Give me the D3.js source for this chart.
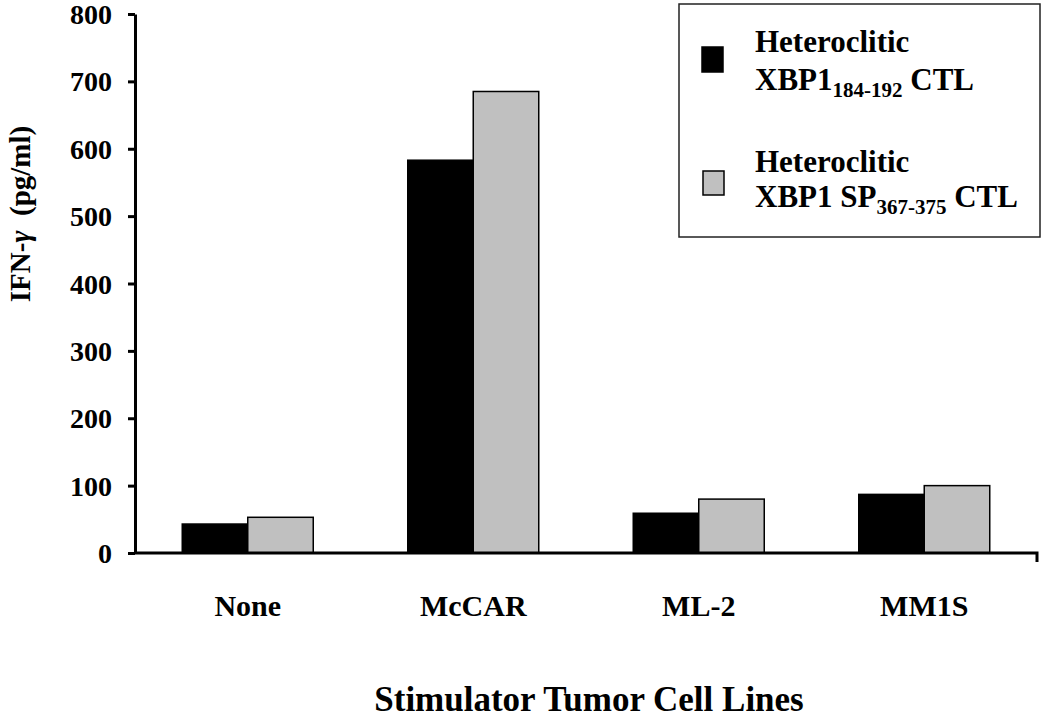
<!DOCTYPE html>
<html>
<head>
<meta charset="utf-8">
<script src="https://cdn.jsdelivr.net/npm/d3@7"></script>
<style>
  html, body { margin: 0; padding: 0; background: #fff; }
  svg { display: block; }
  text { font-family: "Liberation Serif", "Times New Roman", serif; font-weight: bold; fill: #000; }
</style>
</head>
<body>
<svg id="chart" width="1050" height="720"></svg>
<script>
const categories = ["None", "McCAR", "ML-2", "MM1S"];
const seriesNames = ["XBP1_184-192", "XBP1 SP_367-375"];
const series1 = [43, 583, 59, 87];
const series2 = [53, 685, 80, 100];
const yTicks = [0, 100, 200, 300, 400, 500, 600, 700, 800];
const colors = ["#000000", "#c0c0c0"];

const svg = d3.select("#chart");
const x0 = 135, x1 = 1037, yTop = 14, yBot = 553;

const x = d3.scaleBand().domain(categories).range([x0, x1]).paddingInner(0).paddingOuter(0);
const groupW = 131;
const xs = d3.scaleBand().domain(seriesNames).range([0, groupW]).padding(0);
const y = d3.scaleLinear().domain([0, 800]).range([yBot, yTop]);

const data = categories.map((c, i) => ({ cat: c, vals: [series1[i], series2[i]] }));

// Bars
const g = svg.append("g");
data.forEach(d => {
  const left = x(d.cat) + (x.bandwidth() - groupW) / 2;
  d.vals.forEach((v, j) => {
    g.append("rect")
      .attr("x", left + xs(seriesNames[j]))
      .attr("y", y(v))
      .attr("width", xs.bandwidth())
      .attr("height", y(0) - y(v))
      .attr("fill", colors[j])
      .attr("stroke", "#000")
      .attr("stroke-width", 1.5);
  });
});

// Y axis
const yAxis = d3.axisLeft(y).tickValues(yTicks).tickSize(7).tickSizeOuter(0).tickPadding(16);
const ya = svg.append("g").attr("transform", `translate(${x0},0)`).call(yAxis);
ya.select(".domain").attr("stroke", "#000").attr("stroke-width", 3);
ya.selectAll(".tick line").attr("stroke", "#000").attr("stroke-width", 3);
ya.selectAll(".tick text").attr("font-size", 28).attr("font-family", "Liberation Serif").attr("font-weight", "bold").attr("fill", "#000").attr("dy", "0.34em");

// X axis
const xAxis = d3.axisBottom(x).tickSize(0).tickPadding(42);
const xa = svg.append("g").attr("transform", `translate(0,${yBot})`).call(xAxis);
xa.select(".domain").attr("stroke", "#000").attr("stroke-width", 3).attr("d", `M${x0},0H${x1}V9`);
xa.selectAll(".tick text").attr("font-size", 30).attr("font-family", "Liberation Serif").attr("font-weight", "bold").attr("fill", "#000");

// Axis titles
svg.append("text")
  .attr("x", (x0 + x1) / 2 + 3).attr("y", 711)
  .attr("text-anchor", "middle").attr("font-size", 35)
  .text("Stimulator Tumor Cell Lines");

const yt = svg.append("text")
  .attr("transform", "translate(30,214) rotate(-90)")
  .attr("text-anchor", "middle").attr("font-size", 29)
  .style("white-space", "pre");
yt.append("tspan").text("IFN-");
yt.append("tspan").attr("font-style", "italic").text("γ");
yt.append("tspan").text("  (pg/ml)");

// Legend
const lg = svg.append("g");
lg.append("rect").attr("x", 679).attr("y", 4).attr("width", 361).attr("height", 233)
  .attr("fill", "#fff").attr("stroke", "#222").attr("stroke-width", 1.5);
lg.append("rect").attr("x", 702).attr("y", 47).attr("width", 21).attr("height", 25)
  .attr("fill", colors[0]).attr("stroke", "#000").attr("stroke-width", 1.5);
lg.append("rect").attr("x", 703).attr("y", 171).attr("width", 21).attr("height", 24)
  .attr("fill", colors[1]).attr("stroke", "#000").attr("stroke-width", 1.5);

const lt1 = lg.append("text").attr("x", 755).attr("y", 52).attr("font-size", 31);
lt1.text("Heteroclitic");
const lt2 = lg.append("text").attr("x", 755).attr("y", 90).attr("font-size", 31);
lt2.append("tspan").text("XBP1");
lt2.append("tspan").attr("font-size", 21).attr("dy", 7).text("184-192");
lt2.append("tspan").attr("dy", -7).text(" CTL");

const lt3 = lg.append("text").attr("x", 755).attr("y", 172).attr("font-size", 31);
lt3.text("Heteroclitic");
const lt4 = lg.append("text").attr("x", 755).attr("y", 207).attr("font-size", 31);
lt4.append("tspan").text("XBP1 SP");
lt4.append("tspan").attr("font-size", 21).attr("dy", 7).text("367-375");
lt4.append("tspan").attr("dy", -7).text(" CTL");
</script>
</body>
</html>
